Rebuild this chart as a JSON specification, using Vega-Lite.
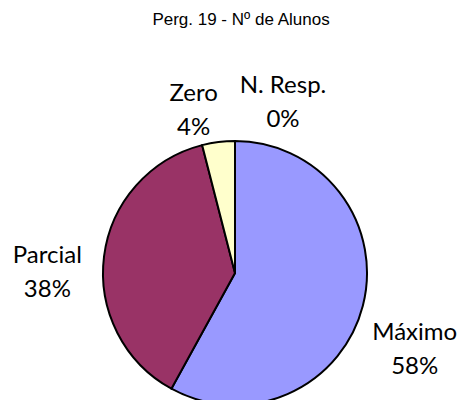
{
  "$schema": "https://vega.github.io/schema/vega-lite/v6.json",
  "width": 456,
  "height": 254,
  "autosize": {"type": "none"},
  "padding": {"left": 7, "top": 146, "right": 0, "bottom": 0},
  "background": "white",
  "title": {
    "text": "Perg. 19 - Nº de Alunos",
    "font": "Liberation Sans",
    "fontSize": 17,
    "fontWeight": "normal",
    "color": "#000000",
    "frame": "group",
    "offset": 45,
    "dx": 6
  },
  "view": {"stroke": null},
  "data": {
    "values": [
      {"cat": "Máximo", "value": 58, "ord": 1},
      {"cat": "Parcial", "value": 38, "ord": 2},
      {"cat": "Zero", "value": 4, "ord": 3},
      {"cat": "N. Resp.", "value": 0, "ord": 4}
    ]
  },
  "transform": [
    {"calculate": "datum.cat + '\\n' + datum.value + '%'", "as": "label"}
  ],
  "encoding": {
    "theta": {"field": "value", "type": "quantitative", "stack": true},
    "order": {"field": "ord", "type": "quantitative"}
  },
  "layer": [
    {
      "mark": {"type": "arc", "radius": 132, "stroke": "#000000", "strokeWidth": 2},
      "encoding": {
        "color": {
          "field": "cat",
          "type": "nominal",
          "scale": {
            "domain": ["Máximo", "Parcial", "Zero", "N. Resp."],
            "range": ["#9999FF", "#993366", "#FFFFCC", "#CCFFFF"]
          },
          "legend": null
        }
      }
    },
    {
      "mark": {"type": "text", "radius": 170, "dx": 15, "dy": 25, "font": "Lato", "fontSize": 24, "lineBreak": "\n", "lineHeight": 34, "align": "center", "baseline": "alphabetic", "color": "#000000"},
      "encoding": {
        "text": {"condition": {"test": "datum.cat === 'Máximo'", "field": "label", "type": "nominal"}, "value": ""}
      }
    },
    {
      "mark": {"type": "text", "radius": 170, "dx": -19, "dy": 11, "font": "Lato", "fontSize": 24, "lineBreak": "\n", "lineHeight": 34, "align": "center", "baseline": "alphabetic", "color": "#000000"},
      "encoding": {
        "text": {"condition": {"test": "datum.cat === 'Parcial'", "field": "label", "type": "nominal"}, "value": ""}
      }
    },
    {
      "mark": {"type": "text", "radius": 170, "dx": -20, "dy": -3, "font": "Lato", "fontSize": 24, "lineBreak": "\n", "lineHeight": 34, "align": "center", "baseline": "alphabetic", "color": "#000000"},
      "encoding": {
        "text": {"condition": {"test": "datum.cat === 'Zero'", "field": "label", "type": "nominal"}, "value": ""}
      }
    },
    {
      "mark": {"type": "text", "radius": 170, "dx": 48, "dy": -10, "font": "Lato", "fontSize": 24, "lineBreak": "\n", "lineHeight": 34, "align": "center", "baseline": "alphabetic", "color": "#000000"},
      "encoding": {
        "text": {"condition": {"test": "datum.cat === 'N. Resp.'", "field": "label", "type": "nominal"}, "value": ""}
      }
    }
  ]
}
